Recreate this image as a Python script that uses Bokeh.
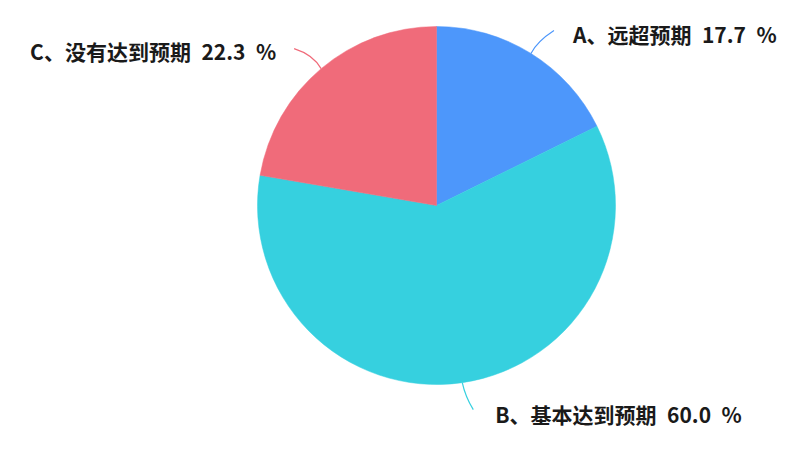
import numpy as np

from bokeh.core.properties import value
from bokeh.embed import file_html
from bokeh.models import ColumnDataSource
from bokeh.plotting import figure
from bokeh.resources import INLINE

# data
categories = ["A、远超预期", "B、基本达到预期", "C、没有达到预期"]
shares = [17.7, 60.0, 22.3]
colors = ["#4d97fb", "#36d0df", "#f06b7a"]

# angles, clockwise from 12 o'clock
frac = np.array(shares) / sum(shares)
ends = np.cumsum(frac)
starts = ends - frac
start_angle = np.pi / 2 - 2 * np.pi * starts
end_angle = np.pi / 2 - 2 * np.pi * ends
mid = np.pi / 2 - 2 * np.pi * (starts + ends) / 2

R = 179
sp = "\u2002"  # wider gap like the original font
source = ColumnDataSource(data=dict(
    start=start_angle, end=end_angle, color=colors,
    label=[f"{c}{sp}{s:.1f}{sp}%" for c, s in zip(categories, shares)],
))

# 1 data unit = 1 px, pie centre at origin
p = figure(width=788, height=444, x_range=(-436, 352), y_range=(-239, 205),
           toolbar_location=None, output_backend="svg", min_border=0)
p.axis.visible = False
p.grid.grid_line_color = None
p.outline_line_color = None
p.background_fill_color = "white"
p.border_fill_color = "white"

p.wedge(x=0, y=0, radius=R, start_angle="start", end_angle="end",
        direction="clock", fill_color="color", line_color="color",
        line_width=0.5, source=source)

# leader lines: (control offset, end offset) relative to edge point
leader = [((6, 12), (23, 23)), ((3, -14), (11, -27)), ((-8, 14), (-27, 20))]
anchor = ["left", "left", "right"]
text_gap = [19, 22, -18]
text_dy = [-4, -4, -2]

for i in range(len(categories)):
    x0 = R * np.cos(mid[i])
    y0 = R * np.sin(mid[i])
    (cx, cy), (ex, ey) = leader[i]
    p.quadratic(x0=[x0], y0=[y0], x1=[x0 + ex], y1=[y0 + ey],
                cx=[x0 + cx], cy=[y0 + cy], line_color=colors[i], line_width=1.2)
    p.text(x=[x0 + ex + text_gap[i]], y=[y0 + ey + text_dy[i]],
           text=[source.data["label"][i]], text_font=value("Noto Sans CJK SC"),
           text_font_size="21px", text_font_style="bold", text_color="#1a1a1a",
           text_align=anchor[i], text_baseline="middle")

open("out.html", "w").write(file_html(p, INLINE))
